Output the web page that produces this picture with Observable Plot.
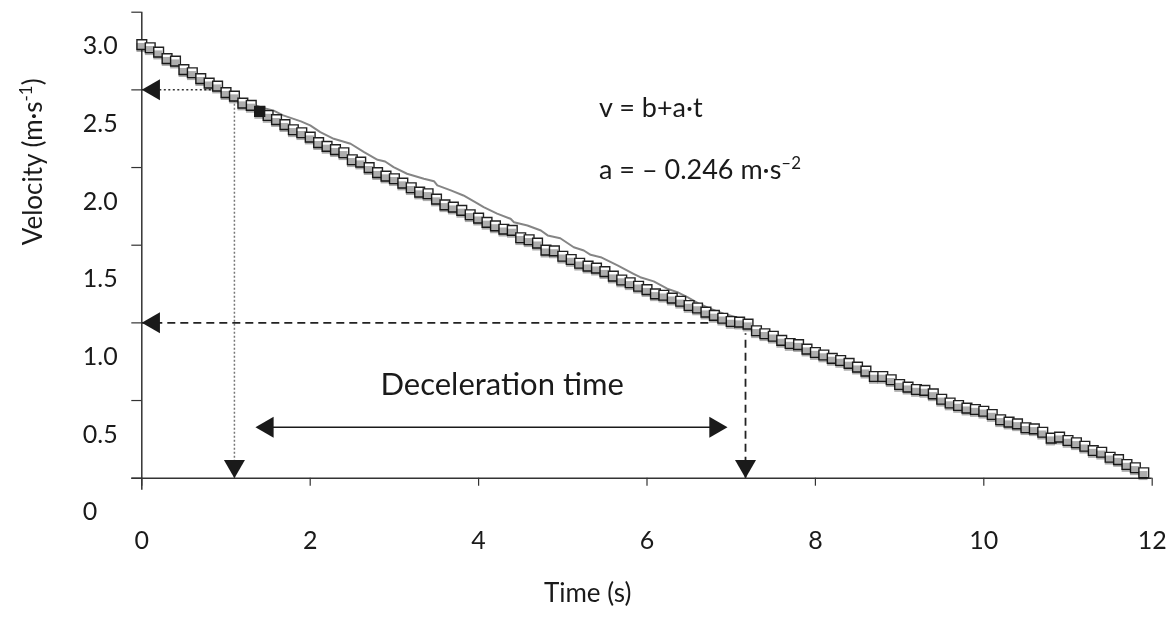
<!DOCTYPE html>
<html><head><meta charset="utf-8">
<script src="https://cdn.jsdelivr.net/npm/d3@7"></script>
<script src="https://cdn.jsdelivr.net/npm/@observablehq/plot@0.6"></script>
<style>body{margin:0;background:#fff} #chart svg{display:block}</style>
</head><body><div id="chart"></div>
<script>
// Measured velocity (squares), sampled every 0.1 s
const time = [0,0.1,0.2,0.3,0.4,0.5,0.6,0.7,0.8,0.9,1.0,1.1,1.2,1.3,1.4,1.5,1.6,1.7,1.8,1.9,
2.0,2.1,2.2,2.3,2.4,2.5,2.6,2.7,2.8,2.9,3.0,3.1,3.2,3.3,3.4,3.5,3.6,3.7,3.8,3.9,
4.0,4.1,4.2,4.3,4.4,4.5,4.6,4.7,4.8,4.9,5.0,5.1,5.2,5.3,5.4,5.5,5.6,5.7,5.8,5.9,
6.0,6.1,6.2,6.3,6.4,6.5,6.6,6.7,6.8,6.9,7.0,7.1,7.2,7.3,7.4,7.5,7.6,7.7,7.8,7.9,
8.0,8.1,8.2,8.3,8.4,8.5,8.6,8.7,8.8,8.9,9.0,9.1,9.2,9.3,9.4,9.5,9.6,9.7,9.8,9.9,
10.0,10.1,10.2,10.3,10.4,10.5,10.6,10.7,10.8,10.9,11.0,11.1,11.2,11.3,11.4,11.5,11.6,11.7,11.8,11.9];
const velocity = [2.791,2.771,2.743,2.701,2.685,2.630,2.610,2.572,2.543,2.524,
2.482,2.460,2.415,2.400,2.361,2.335,2.308,2.276,2.243,2.224,
2.196,2.160,2.136,2.115,2.095,2.050,2.035,1.999,1.967,1.945,
1.928,1.900,1.870,1.842,1.831,1.797,1.760,1.745,1.724,1.696,
1.674,1.647,1.624,1.603,1.595,1.548,1.535,1.513,1.468,1.463,
1.429,1.408,1.384,1.365,1.352,1.330,1.301,1.276,1.258,1.236,
1.214,1.187,1.178,1.159,1.139,1.112,1.096,1.069,1.048,1.030,
1.009,1.005,0.992,0.949,0.930,0.914,0.887,0.867,0.860,0.831,
0.809,0.793,0.771,0.758,0.739,0.715,0.689,0.655,0.655,0.634,
0.603,0.586,0.571,0.565,0.543,0.508,0.484,0.468,0.451,0.442,
0.431,0.410,0.376,0.361,0.350,0.325,0.318,0.296,0.258,0.264,
0.243,0.228,0.206,0.178,0.167,0.135,0.120,0.088,0.067,0.035];
const highlightTime = [1.4];

// Grey trace
const traceTime = [1.13,1.29,1.45,1.56,1.68,1.89,2.00,2.12,2.28,2.48,2.64,2.80,2.89,2.99,3.15,3.35,3.47,3.51,3.67,3.82,
3.98,4.06,4.22,4.38,4.42,4.58,4.74,4.82,4.97,5.13,5.25,5.33,5.45,5.65,5.84,5.92,6.08,6.24,6.36,6.48,6.60,6.75,6.91,7.11];
const traceVelocity = [2.453,2.411,2.381,2.368,2.336,2.297,2.271,2.228,2.185,2.153,2.099,2.050,2.039,2.003,1.960,1.928,1.912,1.885,1.853,1.820,
1.771,1.745,1.703,1.670,1.648,1.627,1.595,1.563,1.545,1.487,1.466,1.438,1.423,1.370,1.316,1.294,1.267,1.220,1.198,1.166,1.129,1.091,1.059,1.028];

const xTicks = [0,2,4,6,8,10,12];
const yTicks = [0,0.5,1,1.5,2,2.5,3];
const yTickLabels = ["0","0.5","1.0","1.5","2.0","2.5","3.0"];

// Annotation values
const levelStart = 2.5, levelEnd = 1.0;
const timeStart = 1.10, timeEnd = 7.17;
const dottedEndTime = 1.0, dottedTopLevel = 2.43;
const dashedEndTime = 6.77, dashedTopLevel = 0.93;
const spanStart = 1.35, spanEnd = 6.956, spanLevel = 0.328;
const eqLines = ["v = b+a·t", "a = – 0.246 m·s^–2"];
const eqTime = 5.43, eqLevels = [2.38, 1.979];
const spanLabel = "Deceleration time", spanLabelTime = 4.28, spanLabelLevel = 0.60;
const xLabel = "Time (s)", xLabelTime = 5.295;
const yLabel = "Velocity (m·s^-1)", yLabelLevel = 1.5;

const pts = time.map((t, i) => ({t, v: velocity[i]}));
const hl = pts.filter(d => highlightTime.includes(d.t));
const trace = traceTime.map((t, i) => ({t, v: traceVelocity[i]}));

const triR = 7.8, tip = 12.1;
const ink = "#1a1a1a";

const chart = Plot.plot({
  width: 1170, height: 620,
  marginLeft: 141.3, marginRight: 18.3, marginTop: 11.7, marginBottom: 142.3,
  x: {domain: [0, 12]},
  y: {domain: [0, 3]},
  style: {fontFamily: "Lato, sans-serif", fontSize: "25px", color: ink, background: "white"},
  marks: [
    // guides
    Plot.ruleY([levelStart], {x1: () => 0, x2: () => dottedEndTime, stroke: "#333", strokeWidth: 1.5, strokeDasharray: "2,2.5"}),
    Plot.ruleX([timeStart], {y1: () => 0, y2: () => dottedTopLevel, stroke: "#777", strokeWidth: 1.5, strokeDasharray: "2,2"}),
    Plot.ruleY([levelEnd], {x1: () => 0, x2: () => dashedEndTime, stroke: "#222", strokeWidth: 1.8, strokeDasharray: "8,5"}),
    Plot.ruleX([timeEnd], {y1: () => 0, y2: () => dashedTopLevel, stroke: "#222", strokeWidth: 1.8, strokeDasharray: "8,5"}),
    Plot.ruleY([spanLevel], {x1: () => spanStart + 0.1, x2: () => spanEnd - 0.1, stroke: ink, strokeWidth: 1.6}),
    // axes
    Plot.ruleX([0], {stroke: "#333", strokeWidth: 1.5, insetBottom: -12}),
    Plot.ruleY([0], {stroke: "#333", strokeWidth: 1.5, insetLeft: -10}),
    Plot.axisY(yTicks, {tickSize: 10, fill: "none", stroke: "#333", strokeWidth: 1.2, label: null}),
    Plot.axisY(yTicks, {tickSize: 0, tickPadding: 59, textAnchor: "start", dy: 34, fill: ink, label: null,
      tickFormat: d => yTickLabels[yTicks.indexOf(d)]}),
    Plot.axisX(xTicks, {tickSize: 8, fill: "none", stroke: "#333", strokeWidth: 1.2, label: null}),
    Plot.axisX(xTicks, {tickSize: 0, tickPadding: 53, fill: ink, label: null, tickFormat: d => String(d)}),
    // grey trace
    Plot.line(trace, {x: "t", y: "v", stroke: "#858585", strokeWidth: 2}),
    // squares
    Plot.dot(pts, {x: "t", y: "v", symbol: "square", r: 5.5, fill: "white", stroke: "#222", strokeWidth: 1.4}),
    Plot.dot(pts, {x: "t", y: "v", symbol: "square", r: 5.1, fill: "#adadad", dx: -0.8, dy: 2.8, mixBlendMode: "multiply"}),
    Plot.dot(hl, {x: "t", y: "v", symbol: "square", r: 5.5, fill: "#1a1a1a", stroke: "#1a1a1a"}),
    // arrowheads
    Plot.dot([levelStart, levelEnd], {x: () => 0, y: d => d, symbol: "triangle", r: triR, rotate: -90, dx: tip, fill: ink}),
    Plot.dot([timeStart, timeEnd], {x: d => d, y: () => 0, symbol: "triangle", r: triR, rotate: 180, dy: -tip, fill: ink}),
    Plot.dot([spanStart], {x: d => d, y: () => spanLevel, symbol: "triangle", r: triR, rotate: -90, dx: tip, fill: ink}),
    Plot.dot([spanEnd], {x: d => d, y: () => spanLevel, symbol: "triangle", r: triR, rotate: 90, dx: -tip, fill: ink}),
    // texts
    Plot.text(eqLines, {x: () => eqTime, y: (d, i) => eqLevels[i], text: d => d, textAnchor: "start", fontSize: 27, fill: ink}),
    Plot.text([spanLabel], {x: () => spanLabelTime, y: () => spanLabelLevel, text: d => d, fontSize: 31, fill: ink}),
    Plot.text([xLabel], {x: () => xLabelTime, frameAnchor: "bottom", dy: 124, text: d => d, fontSize: 26, fill: ink}),
    Plot.text([yLabel], {y: () => yLabelLevel, frameAnchor: "left", dx: -108, rotate: -90, text: d => d, fontSize: 26, fill: ink})
  ]
});

// superscripts
d3.select(chart).selectAll("text").each(function () {
  const s = this.textContent;
  if (!s.includes("^")) return;
  const m = s.match(/^(.*)\^([–\-]?\d)(.*)$/);
  if (!m) return;
  const fs = parseFloat(this.getAttribute("font-size")) || 26;
  const el = d3.select(this);
  el.text(null);
  el.append("tspan").text(m[1]);
  el.append("tspan").attr("font-size", fs * 0.65).attr("dy", -fs * 0.4).text(m[2]);
  if (m[3]) el.append("tspan").attr("dy", fs * 0.4).text(m[3]);
});

document.getElementById("chart").appendChild(chart);
</script>
</body></html>
